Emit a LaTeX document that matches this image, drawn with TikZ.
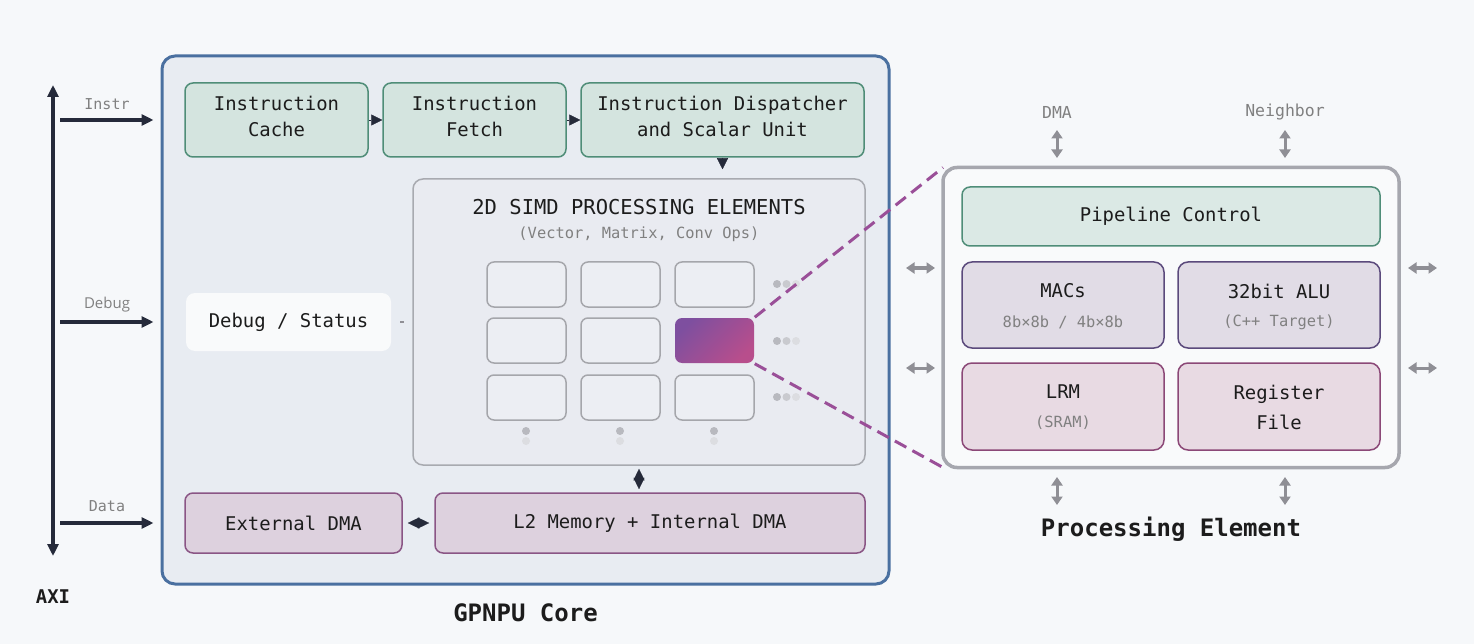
\documentclass[tikz,border=0pt]{standalone}
\usepackage{fontspec}
\setmainfont{DejaVu Sans Mono}
\newfontfamily\labsans{Open Sans}
\usetikzlibrary{arrows.meta,calc}
\definecolor{bg}{HTML}{F6F8FA}
\definecolor{coreB}{HTML}{4A70A0}
\definecolor{coreF}{HTML}{E8ECF2}
\definecolor{grnB}{HTML}{4F8D78}
\definecolor{grnF}{HTML}{D4E4DF}
\definecolor{grnF2}{HTML}{DBE9E5}
\definecolor{purB}{HTML}{8A5585}
\definecolor{purF}{HTML}{DDD1DE}
\definecolor{macB}{HTML}{5B4A7C}
\definecolor{macF}{HTML}{E1DCE6}
\definecolor{lrmB}{HTML}{8B4877}
\definecolor{lrmF}{HTML}{E8DAE3}
\definecolor{simdB}{HTML}{A8AAB0}
\definecolor{simdF}{HTML}{E9EBF1}
\definecolor{cellB}{HTML}{A5A6AB}
\definecolor{cellF}{HTML}{ECEEF3}
\definecolor{hlA}{HTML}{7E4F9F}
\definecolor{hlB}{HTML}{B84E8C}
\definecolor{dashC}{HTML}{9A4F98}
\definecolor{peB}{HTML}{A6A7AE}
\definecolor{peF}{HTML}{F9FAFB}
\definecolor{dark}{HTML}{252A3A}
\definecolor{txt}{HTML}{1C1C1C}
\definecolor{subtxt}{HTML}{808080}
\definecolor{garrow}{HTML}{8F8F95}
\definecolor{dotA}{HTML}{B8B9BF}
\definecolor{dotB}{HTML}{C9CACF}
\definecolor{dotC}{HTML}{DCDDE1}
\newcommand\fsMain{\fontsize{18.9}{26}\selectfont}
\newcommand\fsSub{\fontsize{15.4}{20}\selectfont}
\newcommand\fsLab{\fontsize{15}{18}\selectfont}
\newcommand\fsTitle{\fontsize{24}{28}\selectfont\bfseries}
\begin{document}
\begin{tikzpicture}[x=1pt,y=-1pt,
  greenbox/.style={draw=grnB, fill=grnF, rounded corners=8pt, line width=1.5pt, font=\fsMain, align=center, text=txt, inner sep=0pt},
  purbox/.style={draw=purB, fill=purF, rounded corners=8pt, line width=1.5pt, font=\fsMain, align=center, text=txt, inner sep=0pt},
  macbox/.style={draw=macB, fill=macF, rounded corners=10pt, line width=1.5pt, inner sep=0pt},
  lrmbox/.style={draw=lrmB, fill=lrmF, rounded corners=10pt, line width=1.5pt, inner sep=0pt},
  cell/.style={draw=cellB, fill=cellF, rounded corners=7pt, line width=1.5pt, minimum width=79pt, minimum height=45pt, inner sep=0pt},
  maintext/.style={font=\fsMain, text=txt, inner sep=0pt},
  subtext/.style={font=\fsSub, text=subtxt, inner sep=0pt},
  labtext/.style={font=\fsLab, text=subtxt, inner sep=0pt},
  axiarrow/.style={draw=dark, line width=3.2pt, -{Triangle[length=12pt,width=11pt]}},
  smalltip/.style={draw=dark, line width=0.4pt, -{Triangle[length=11pt,width=11pt]}},
  diamondtip/.style={draw=dark, line width=0.4pt, {Triangle[length=11.5pt,width=11pt]}-{Triangle[length=11.5pt,width=11pt]}},
  grayarrow/.style={draw=garrow, line width=3pt, {Triangle[length=8.5pt,width=11pt]}-{Triangle[length=8.5pt,width=11pt]}},
  zoomline/.style={draw=dashC, line width=3pt, dash pattern=on 13pt off 7pt},
]
\path[fill=bg] (0,0) rectangle (1474,644);
\useasboundingbox (0,0) rectangle (1474,644);

% ---------- AXI bus ----------
\coordinate (axiT) at (53,85);
\coordinate (axiB) at (53,556);
\draw[draw=dark, line width=3.2pt, {Triangle[length=12pt,width=11pt]}-{Triangle[length=12pt,width=11pt]}] (axiT) -- (axiB);
\node[font=\fsMain\bfseries, text=txt] (axi) at (53,597) {AXI};

% ---------- GPNPU core ----------
\node[draw=coreB, fill=coreF, line width=3pt, rounded corners=13pt, minimum width=727pt, minimum height=528pt, inner sep=0pt] (core) at (525.5,320) {};
\node[font=\fsTitle, text=txt] (coretitle) at (525.5,613) {GPNPU Core};

\coordinate (instrS) at (60,120);
\coordinate (debugS) at (60,322);
\coordinate (dataS) at (60,523);
\draw[axiarrow, shorten >=7pt] (instrS) -- (instrS -| core.west);
\draw[axiarrow, shorten >=7pt] (debugS) -- (debugS -| core.west);
\draw[axiarrow, shorten >=7pt] (dataS) -- (dataS -| core.west);
\node[labtext] (instrL) at (107,104) {Instr};
\node[labtext, font=\labsans\fsLab] (debugL) at (107,305) {Debug};
\node[labtext] (dataL) at (107,506) {Data};

% top pipeline
\node[greenbox, minimum width=183pt, minimum height=74pt] (icache) at (276.5,120) {};
\node[greenbox, minimum width=183pt, minimum height=74pt] (ifetch) at (474.5,120) {};
\node[greenbox, minimum width=283pt, minimum height=74pt] (disp) at (722.5,120) {};
\node[maintext, align=center] (icacheT) at (276.5,116.5) {Instruction\\Cache};
\node[maintext, align=center] (ifetchT) at (474.5,116.5) {Instruction\\Fetch};
\node[maintext, align=center] (dispT) at (722.5,116.5) {Instruction Dispatcher\\and Scalar Unit};
\draw[smalltip] (icache.east) -- (ifetch.west);
\draw[smalltip] (ifetch.east) -- (disp.west);

% SIMD array
\node[draw=simdB, fill=simdF, line width=1.5pt, rounded corners=10pt, minimum width=452pt, minimum height=286pt, inner sep=0pt] (simd) at (639,322) {};
\draw[smalltip, shorten >=9pt] (disp.south) -- (disp.south |- simd.north);
\node[maintext, font=\fontsize{20.5}{24}\selectfont] (simdT) at (639,207) {2D SIMD PROCESSING ELEMENTS};
\node[subtext] (simdS) at (639,234) {(Vector, Matrix, Conv Ops)};

\node[cell] (c11) at (526.5,284.5) {};
\node[cell] (c12) at (620.5,284.5) {};
\node[cell] (c13) at (714.5,284.5) {};
\node[cell] (c21) at (526.5,340.5) {};
\node[cell] (c22) at (620.5,340.5) {};
\node[cell, draw=none, left color=hlA, right color=hlB, shading angle=45] (hl) at (714.5,340.5) {};
\node[cell] (c31) at (526.5,397.5) {};
\node[cell] (c32) at (620.5,397.5) {};
\node[cell] (c33) at (714.5,397.5) {};

\foreach \yy in {284,341,397} {
  \fill[dotA] (777,\yy) circle (4pt);
  \fill[dotB] (786.5,\yy) circle (4pt);
  \fill[dotC] (796,\yy) circle (4pt);
}
\foreach \xx in {526,620,714} {
  \fill[dotA] (\xx,431) circle (4pt);
  \fill[dotC] (\xx,441) circle (4pt);
}

% debug
\node[fill=peF, rounded corners=9pt, minimum width=205pt, minimum height=58pt, maintext] (debug) at (288.5,322) {Debug / Status};
\draw[draw=garrow, line width=2pt, shorten <=9pt, shorten >=8pt] (debug.east) -- (simd.west);

% memory row
\node[purbox, minimum width=217pt, minimum height=60pt] (extdma) at (293.5,523) {External DMA};
\node[purbox, minimum width=430pt, minimum height=60pt] (l2) at (650,523) {L2 Memory + Internal DMA};
\draw[diamondtip, shorten <=5pt, shorten >=5pt] (extdma.east) -- (l2.west);
\draw[diamondtip, shorten <=3pt, shorten >=3pt] (simd.south) -- (simd.south |- l2.north);

% ---------- Processing Element ----------
\draw[zoomline] (hl.north east) -- (943,167.5) coordinate (peNW);
\draw[zoomline] (hl.south east) -- (943,467.5) coordinate (peSW);
\node[draw=peB, fill=peF, line width=3.5pt, rounded corners=14pt, minimum width=456pt, minimum height=300pt, inner sep=0pt] (pe) at (1171,317.5) {};
\node[greenbox, fill=grnF2, minimum width=418pt, minimum height=59pt] (pipe) at (1171,216.5) {Pipeline Control};

\node[macbox, minimum width=202pt, minimum height=86pt] (macs) at (1063,305) {};
\node[macbox, minimum width=202pt, minimum height=86pt] (alu) at (1279,305) {};
\node[lrmbox, minimum width=202pt, minimum height=87pt] (lrm) at (1063,406.5) {};
\node[lrmbox, minimum width=202pt, minimum height=87pt] (regf) at (1279,406.5) {};

\node[maintext] (macsT) at (1063,291) {MACs};
\node[subtext] (macsS) at (1063,322) {8b×8b / 4b×8b};
\node[maintext] (aluT) at (1279,291) {32bit ALU};
\node[subtext] (aluS) at (1279,322) {(C++ Target)};
\node[maintext] (lrmT) at (1063,392) {LRM};
\node[subtext] (lrmS) at (1063,423) {(SRAM)};
\node[maintext, align=center, font=\fontsize{18.9}{30}\selectfont] (regfT) at (1279,407) {Register\\File};

\node[labtext, font=\fontsize{16.5}{20}\selectfont] (dmaL) at (1057,112) {DMA};
\node[labtext, font=\fontsize{16.5}{20}\selectfont] (nbL) at (1285,112) {Neighbor};

\coordinate (a1t) at (1057,130); \coordinate (a1b) at (1057,158);
\coordinate (a2t) at (1285,130); \coordinate (a2b) at (1285,158);
\coordinate (a3t) at (1057,477); \coordinate (a3b) at (1057,505);
\coordinate (a4t) at (1285,477); \coordinate (a4b) at (1285,505);
\coordinate (h1l) at (906,268); \coordinate (h1r) at (935,268);
\coordinate (h2l) at (906,368); \coordinate (h2r) at (935,368);
\coordinate (h3l) at (1408,268); \coordinate (h3r) at (1437,268);
\coordinate (h4l) at (1408,368); \coordinate (h4r) at (1437,368);
\draw[grayarrow] (a1t) -- (a1b);
\draw[grayarrow] (a2t) -- (a2b);
\draw[grayarrow] (a3t) -- (a3b);
\draw[grayarrow] (a4t) -- (a4b);
\draw[grayarrow] (h1l) -- (h1r);
\draw[grayarrow] (h2l) -- (h2r);
\draw[grayarrow] (h3l) -- (h3r);
\draw[grayarrow] (h4l) -- (h4r);

\node[font=\fsTitle, text=txt] (petitle) at (1171,529) {Processing Element};
\end{tikzpicture}
\end{document}
